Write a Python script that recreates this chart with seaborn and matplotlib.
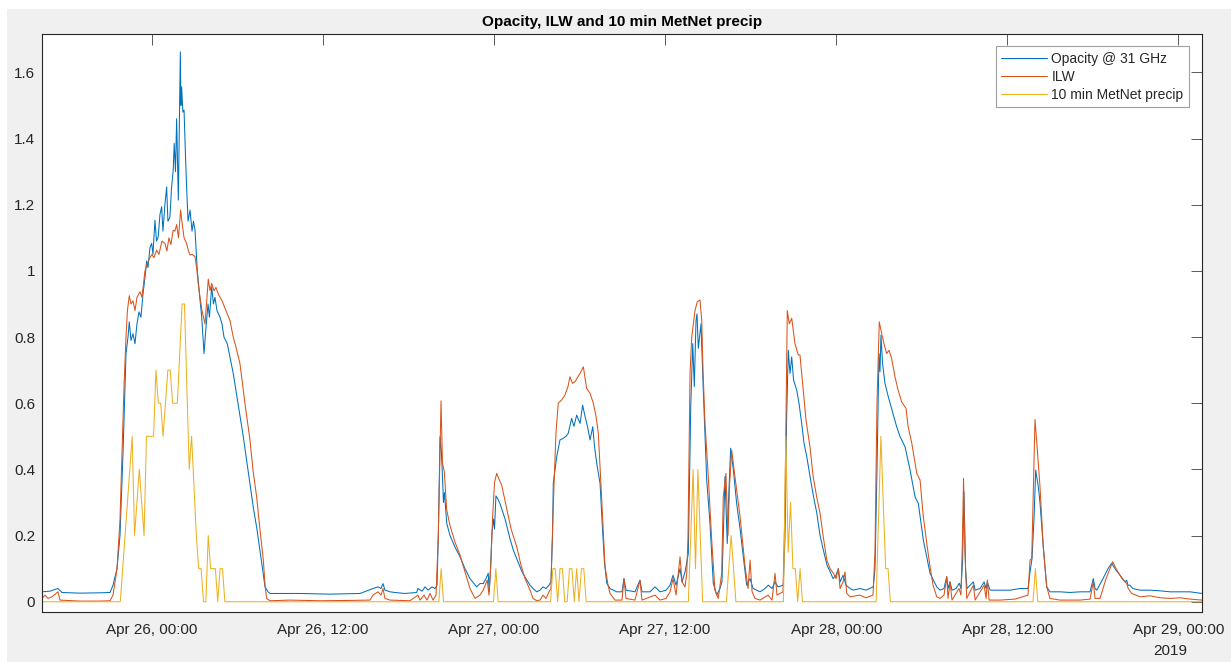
import numpy as np
import pandas as pd
import matplotlib
matplotlib.use("Agg")
import matplotlib.pyplot as plt
import seaborn as sns
from matplotlib.patches import Rectangle
from matplotlib.ticker import FuncFormatter

# ---------------- data (hours relative to 2019-04-26 00:00, value) ----------------
opacity_points = [
(-7.69,0.03),(-7.13,0.032),(-6.57,0.04),(-6.29,0.028),(-5.03,0.026),(-3.63,0.027),(-2.92,0.028),(-2.71,0.05),
(-2.43,0.1),(-2.22,0.2),(-2.01,0.45),(-1.80,0.75),(-1.66,0.80),(-1.57,0.846),(-1.45,0.79),(-1.31,0.81),(-1.17,0.78),
(-1.03,0.84),(-0.89,0.876),(-0.75,0.86),(-0.61,0.93),(-0.47,0.98),(-0.35,1.03),(-0.26,1.01),(-0.12,1.07),(0.00,1.083),
(0.09,1.05),(0.23,1.153),(0.34,1.09),(0.46,1.103),(0.58,1.17),(0.70,1.194),(0.79,1.12),(0.93,1.2),(1.05,1.254),
(1.14,1.15),(1.28,1.163),(1.39,1.25),(1.51,1.304),(1.58,1.385),(1.67,1.3),(1.75,1.46),(1.87,1.214),(1.94,1.45),
(2.01,1.662),(2.05,1.5),(2.10,1.556),(2.19,1.48),(2.27,1.486),(2.37,1.35),(2.45,1.254),(2.55,1.15),(2.69,1.184),
(2.83,1.12),(2.93,1.15),(3.04,1.123),(3.20,1.0),(3.35,0.93),(3.51,0.86),(3.60,0.8),(3.67,0.75),(3.81,0.83),(3.95,0.9),
(4.05,0.86),(4.21,0.952),(4.33,0.9),(4.44,0.92),(4.58,0.88),(4.79,0.86),(4.93,0.84),(5.07,0.8),(5.30,0.78),(5.49,0.74),
(5.72,0.69),(6.05,0.6),(6.42,0.5),(6.75,0.4),(7.12,0.287),(7.38,0.22),(7.59,0.156),(7.81,0.09),(7.95,0.045),(8.16,0.03),
(8.30,0.025),(10.40,0.025),(12.50,0.023),(14.61,0.025),(15.52,0.04),(15.87,0.045),(16.08,0.04),(16.22,0.055),
(16.36,0.035),(16.71,0.03),(17.06,0.028),(17.76,0.025),(18.58,0.028),(18.67,0.04),(18.96,0.032),(19.17,0.045),
(19.38,0.035),(19.66,0.045),(19.87,0.04),(20.01,0.05),(20.10,0.2),(20.22,0.499),(20.32,0.45),(20.39,0.38),(20.46,0.30),
(20.53,0.33),(20.69,0.237),(20.92,0.2),(21.27,0.165),(21.62,0.136),(21.97,0.1),(22.32,0.07),(22.79,0.045),(23.02,0.055),
(23.25,0.055),(23.44,0.07),(23.60,0.086),(23.67,0.03),(23.76,0.1),(23.86,0.207),(23.97,0.25),(24.04,0.22),(24.14,0.32),
(24.28,0.31),(24.42,0.297),(24.78,0.25),(25.13,0.19),(25.36,0.156),(25.69,0.12),(25.97,0.09),(26.30,0.066),(26.53,0.05),
(26.74,0.04),(27.00,0.03),(27.23,0.035),(27.44,0.045),(27.65,0.04),(27.86,0.05),(28.00,0.06),(28.11,0.2),(28.16,0.358),
(28.40,0.438),(28.63,0.489),(28.86,0.494),(29.05,0.5),(29.21,0.509),(29.45,0.554),(29.61,0.53),(29.80,0.564),
(30.04,0.539),(30.22,0.594),(30.39,0.56),(30.56,0.53),(30.74,0.489),(30.93,0.529),(31.05,0.47),(31.21,0.418),
(31.44,0.358),(31.63,0.207),(31.75,0.12),(31.91,0.056),(32.14,0.04),(32.61,0.03),(32.98,0.03),(33.12,0.07),(33.26,0.035),
(33.89,0.03),(34.24,0.065),(34.38,0.03),(34.94,0.03),(35.29,0.045),(35.65,0.03),(36.07,0.035),(36.35,0.05),(36.56,0.08),
(36.77,0.05),(37.05,0.1),(37.19,0.06),(37.40,0.09),(37.63,0.146),(37.80,0.59),(37.94,0.78),(38.05,0.65),(38.17,0.85),
(38.24,0.87),(38.33,0.766),(38.52,0.84),(38.68,0.64),(38.92,0.368),(39.15,0.237),(39.38,0.056),(39.62,0.02),(39.85,0.04),
(39.99,0.06),(40.20,0.378),(40.36,0.176),(40.46,0.317),(40.60,0.464),(40.79,0.398),(41.02,0.297),(41.26,0.22),
(41.49,0.136),(41.72,0.05),(41.96,0.07),(42.17,0.04),(42.66,0.03),(43.01,0.04),(43.24,0.05),(43.50,0.04),(43.71,0.06),
(43.92,0.045),(44.29,0.05),(44.41,0.2),(44.52,0.55),(44.64,0.76),(44.76,0.69),(44.88,0.74),(45.01,0.67),(45.23,0.64),
(45.39,0.6),(45.58,0.539),(45.74,0.48),(45.93,0.44),(46.16,0.38),(46.40,0.32),(46.63,0.27),(46.87,0.2),(47.10,0.156),
(47.36,0.11),(47.57,0.091),(47.78,0.07),(47.99,0.08),(48.15,0.1),(48.27,0.06),(48.48,0.08),(48.69,0.05),(48.97,0.04),
(49.20,0.035),(49.67,0.04),(50.09,0.035),(50.60,0.045),(50.72,0.1),(50.86,0.4),(51.00,0.75),(51.07,0.695),(51.14,0.806),
(51.25,0.72),(51.42,0.66),(51.65,0.62),(51.91,0.58),(52.24,0.529),(52.48,0.499),(52.83,0.468),(53.18,0.398),
(53.53,0.317),(53.76,0.297),(54.11,0.186),(54.58,0.086),(55.05,0.045),(55.28,0.035),(55.56,0.04),(55.75,0.076),
(55.84,0.04),(55.98,0.06),(56.12,0.035),(56.40,0.04),(56.63,0.056),(56.75,0.04),(56.86,0.12),(56.96,0.332),(57.07,0.1),
(57.17,0.04),(57.62,0.06),(57.74,0.035),(58.09,0.04),(58.37,0.06),(58.51,0.04),(58.60,0.06),(58.79,0.035),(59.49,0.035),
(60.19,0.035),(60.89,0.04),(61.45,0.04),(61.59,0.09),(61.73,0.13),(61.87,0.25),(61.99,0.398),(62.17,0.348),(62.29,0.3),
(62.52,0.166),(62.76,0.045),(62.99,0.03),(63.70,0.03),(64.40,0.028),(65.10,0.03),(65.80,0.03),(66.03,0.07),(66.15,0.04),
(66.27,0.035),(66.71,0.07),(67.06,0.1),(67.32,0.116),(67.55,0.1),(67.90,0.08),(68.25,0.06),(68.37,0.065),(68.46,0.05),
(68.60,0.05),(68.79,0.04),(69.31,0.035),(70.01,0.035),(70.71,0.033),(71.41,0.03),(72.11,0.03),(72.81,0.03),(73.65,0.025)]

ilw_points = [
(-7.69,0.01),(-7.48,0.02),(-7.27,0.01),(-6.99,0.015),(-6.57,0.03),(-6.43,0.005),(-5.03,0.002),(-3.63,0.002),(-2.92,0.003),
(-2.71,0.02),(-2.43,0.1),(-2.22,0.25),(-2.08,0.45),(-1.94,0.65),(-1.80,0.80),(-1.70,0.88),(-1.57,0.925),(-1.45,0.9),
(-1.31,0.91),(-1.17,0.88),(-1.03,0.92),(-0.82,0.937),(-0.68,0.92),(-0.47,1.0),(-0.33,1.02),(-0.12,1.04),(0.02,1.05),
(0.16,1.04),(0.35,1.063),(0.51,1.05),(0.72,1.09),(0.93,1.083),(1.07,1.06),(1.21,1.1),(1.35,1.08),(1.51,1.123),(1.63,1.12),
(1.75,1.14),(1.88,1.1),(2.03,1.184),(2.12,1.15),(2.27,1.1),(2.45,1.083),(2.58,1.06),(2.69,1.048),(2.83,1.05),(3.04,1.043),
(3.18,1.0),(3.27,0.96),(3.39,0.92),(3.53,0.88),(3.74,0.84),(3.84,0.9),(3.97,0.975),(4.09,0.94),(4.21,0.962),(4.37,0.94),
(4.51,0.95),(4.67,0.93),(4.93,0.91),(5.21,0.88),(5.49,0.85),(5.72,0.8),(5.91,0.77),(6.19,0.72),(6.54,0.6),(6.89,0.49),
(7.10,0.4),(7.36,0.317),(7.59,0.22),(7.83,0.126),(7.95,0.05),(8.06,0.01),(8.30,0.003),(9.70,0.005),(11.80,0.003),
(13.91,0.004),(15.31,0.005),(15.52,0.02),(15.87,0.03),(16.08,0.02),(16.22,0.04),(16.36,0.01),(16.71,0.005),(18.11,0.003),
(18.67,0.02),(18.82,0.005),(19.10,0.02),(19.31,0.005),(19.52,0.025),(19.73,0.005),(19.94,0.02),(20.10,0.2),(20.22,0.45),
(20.29,0.607),(20.39,0.42),(20.52,0.393),(20.69,0.277),(20.92,0.23),(21.27,0.18),(21.62,0.141),(21.97,0.09),(22.32,0.04),
(22.67,0.01),(23.02,0.02),(23.25,0.035),(23.53,0.066),(23.65,0.02),(23.77,0.1),(23.91,0.257),(24.04,0.36),(24.19,0.388),
(24.36,0.37),(24.54,0.353),(24.85,0.29),(25.20,0.22),(25.60,0.166),(25.90,0.11),(26.18,0.07),(26.53,0.035),(26.74,0.01),
(27.00,0.003),(27.23,0.005),(27.44,0.02),(27.65,0.01),(27.86,0.03),(28.00,0.04),(28.05,0.136),(28.21,0.35),(28.35,0.509),
(28.51,0.6),(28.75,0.61),(28.98,0.625),(29.19,0.65),(29.33,0.68),(29.51,0.66),(29.69,0.665),(29.89,0.68),(30.04,0.69),
(30.27,0.71),(30.50,0.645),(30.74,0.63),(30.97,0.6),(31.16,0.56),(31.32,0.509),(31.56,0.307),(31.79,0.106),(32.00,0.05),
(32.14,0.025),(32.49,0.005),(32.98,0.005),(33.12,0.07),(33.26,0.01),(33.89,0.005),(34.24,0.065),(34.38,0.005),
(35.29,0.02),(35.65,0.005),(36.07,0.01),(36.35,0.03),(36.56,0.07),(36.77,0.02),(37.05,0.136),(37.19,0.06),(37.40,0.045),
(37.52,0.086),(37.61,0.2),(37.75,0.69),(37.87,0.8),(38.10,0.88),(38.26,0.907),(38.45,0.912),(38.57,0.85),(38.66,0.7),
(38.80,0.539),(39.03,0.378),(39.27,0.186),(39.50,0.035),(39.73,0.01),(39.97,0.086),(40.08,0.317),(40.27,0.388),
(40.41,0.2),(40.52,0.35),(40.67,0.458),(40.90,0.378),(41.26,0.257),(41.61,0.106),(41.82,0.04),(41.96,0.126),(42.10,0.03),
(42.31,0.01),(42.66,0.005),(43.22,0.02),(43.50,0.005),(43.71,0.086),(43.85,0.02),(44.27,0.03),(44.41,0.3),(44.57,0.88),
(44.71,0.84),(44.88,0.857),(45.11,0.78),(45.34,0.746),(45.46,0.746),(45.69,0.64),(45.88,0.55),(46.16,0.468),(46.38,0.38),
(46.63,0.317),(46.87,0.267),(47.08,0.2),(47.34,0.126),(47.57,0.1),(47.80,0.086),(47.99,0.07),(48.15,0.1),(48.27,0.04),
(48.48,0.06),(48.62,0.09),(48.74,0.025),(48.97,0.015),(49.67,0.02),(50.09,0.012),(50.58,0.02),(50.72,0.15),(50.86,0.6),
(51.02,0.846),(51.19,0.81),(51.35,0.78),(51.54,0.75),(51.70,0.76),(51.89,0.735),(52.12,0.68),(52.34,0.64),(52.59,0.604),
(52.90,0.584),(53.04,0.53),(53.30,0.479),(53.65,0.388),(53.88,0.368),(54.11,0.257),(54.37,0.17),(54.58,0.106),
(54.79,0.05),(55.05,0.015),(55.28,0.01),(55.56,0.02),(55.75,0.076),(55.84,0.01),(55.98,0.06),(56.12,0.005),(56.61,0.04),
(56.75,0.02),(56.84,0.166),(56.93,0.373),(57.03,0.15),(57.15,0.01),(57.62,0.05),(57.74,0.005),(58.37,0.05),(58.51,0.01),
(58.60,0.066),(58.72,0.005),(59.49,0.005),(60.54,0.008),(61.45,0.02),(61.59,0.126),(61.71,0.13),(61.80,0.3),(61.94,0.551),
(62.06,0.484),(62.29,0.348),(62.52,0.166),(62.76,0.045),(62.99,0.01),(63.70,0.005),(65.10,0.005),(65.80,0.008),
(66.03,0.06),(66.15,0.01),(66.50,0.01),(66.92,0.07),(67.39,0.121),(67.62,0.1),(68.04,0.07),(68.37,0.055),(68.48,0.04),
(68.72,0.025),(69.31,0.015),(70.01,0.018),(70.71,0.012),(71.41,0.01),(72.11,0.012),(72.81,0.008),(73.65,0.005)]

# 10-minute precipitation: sample index k -> time = k*10 + 8 minutes after Apr 26 00:00
precip_first_k = -47
precip_last_k = 441
precip_k = [-14,-13,-12,-11,-10,-9,-8,-7,-6,-5,-4,-3,-2,-1,0,1,2,3,4,5,6,7,8,9,10,11,12,13,14,15,16,17,18,19,20,21,22,
            23,24,25,26,27,28,29,30,
            121,144,
            168,169,170,171,172,173,174,175,176,177,178,179,180,181,182,
            225,226,227,228,229,230,231,
            241,242,243,244,245,
            265,266,267,268,269,270,271,272,273,
            304,305,306,307,308,309,310,
            371]
precip_v = [0,0.1,0.2,0.3,0.4,0.5,0.2,0.3,0.4,0.3,0.2,0.5,0.5,0.5,0.5,0.7,0.6,0.6,0.5,0.6,0.7,0.7,0.6,0.6,0.6,0.75,0.9,
            0.9,0.65,0.4,0.5,0.35,0.2,0.1,0.1,0,0,0.2,0.1,0.1,0.1,0,0.1,0.1,0,
            0.1,0.1,
            0.1,0.1,0,0.1,0.1,0,0,0.1,0.1,0,0.1,0,0.1,0.1,0,
            0,0.2,0.4,0.1,0.4,0.2,0,
            0,0.1,0.2,0.1,0,
            0,0.5,0.15,0.3,0.1,0.1,0,0.1,0,
            0,0.25,0.5,0.3,0.1,0.1,0,
            0.1]

series_labels = ["Opacity @ 31 GHz", "ILW", "10 min MetNet precip"]
series_colors = ["#0072BD", "#D95319", "#EDB120"]
title_text = "Opacity, ILW and 10 min MetNet precip"
base = pd.Timestamp("2019-04-26 00:00")
x_start_h, x_end_h = -7.69, 73.65
y_limits = (-0.031, 1.716)
y_ticks = [0, 0.2, 0.4, 0.6, 0.8, 1.0, 1.2, 1.4, 1.6]
x_tick_hours = [0, 12, 24, 36, 48, 60, 72]

# ---------------- build frames ----------------
op_h, op_v = zip(*opacity_points)
il_h, il_v = zip(*ilw_points)
df_op = pd.DataFrame({"time": base + pd.to_timedelta(np.array(op_h), unit="h"), "value": op_v})
df_il = pd.DataFrame({"time": base + pd.to_timedelta(np.array(il_h), unit="h"), "value": il_v})
kk = np.arange(precip_first_k, precip_last_k + 1)
pv = np.zeros(len(kk))
for k, v in zip(precip_k, precip_v):
    pv[k - precip_first_k] = v
df_pr = pd.DataFrame({"time": base + pd.to_timedelta(kk * 10 + 8, unit="min"), "value": pv})

# ---------------- plot ----------------
sns.set_theme(style="white")
plt.rcParams["font.family"] = ["Liberation Sans", "DejaVu Sans"]

W, H = 1231, 662
fig = plt.figure(figsize=(W / 100, H / 100), dpi=100, facecolor="white")
fig.add_artist(Rectangle((7 / W, 0), 1 - 7 / W, 1 - 9 / H, transform=fig.transFigure,
                         facecolor="#f0f0f0", edgecolor="none", zorder=-5))
ax = fig.add_axes([42 / W, 1 - 612 / H, 1160 / W, 578 / H])
ax.set_facecolor("white")

for df, lab, col in zip([df_op, df_il, df_pr], series_labels, series_colors):
    sns.lineplot(data=df, x="time", y="value", ax=ax, color=col, linewidth=0.75,
                 label=lab, estimator=None, sort=False)

ax.set_xlim(base + pd.Timedelta(hours=x_start_h), base + pd.Timedelta(hours=x_end_h))
ax.set_ylim(*y_limits)
ax.set_yticks(y_ticks)
ax.yaxis.set_major_formatter(FuncFormatter(lambda v, p: "%g" % round(v, 2)))
xt = [base + pd.Timedelta(hours=h) for h in x_tick_hours]
ax.set_xticks(xt)
ax.set_xticklabels([t.strftime("%b %d, %H:%M") for t in xt])
ax.set_xlabel("")
ax.set_ylabel("")

ax.tick_params(axis="both", direction="in", length=8, width=0.6, color="#404040",
               labelcolor="#262626", labelsize=11, top=True, right=True)
ax.tick_params(axis="x", pad=8)
ax.tick_params(axis="y", pad=5)
for s in ax.spines.values():
    s.set_visible(True)
    s.set_color("#262626")
    s.set_linewidth(0.8)

ax.set_title(title_text, fontsize=11, fontweight="bold", color="black", pad=6)
fig.text(1170 / W, 1 - 651 / H, "2019", ha="center", va="center", fontsize=11, color="#262626")

leg = ax.legend(loc="upper right", bbox_to_anchor=(1 - 13 / 1160, 1 - 12 / 578), borderaxespad=0,
                fontsize=10, frameon=True, fancybox=False, edgecolor="#a0a0a0", framealpha=1,
                handlelength=3.3, handletextpad=0.3, labelspacing=0.3, borderpad=0.4)
leg.get_frame().set_linewidth(0.8)
for t in leg.get_texts():
    t.set_color("#262626")

fig.savefig("out.png", dpi=100)
